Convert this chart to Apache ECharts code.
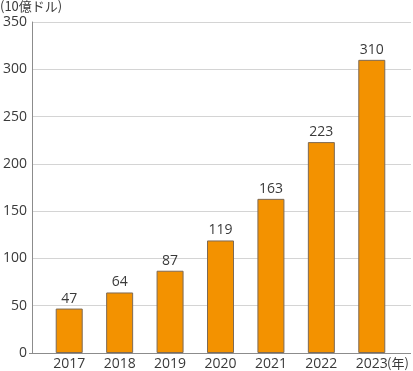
<!DOCTYPE html>
<html><head><meta charset="utf-8">
<script src="https://cdn.jsdelivr.net/npm/echarts@6/dist/echarts.min.js"></script>
<style>html,body{margin:0;padding:0;background:#fff}#c{width:413px;height:371px}</style>
</head><body><div id="c"></div>
<script>
const categories = ['2017','2018','2019','2020','2021','2022','2023'];
const values = [47, 64, 87, 119, 163, 223, 310];
const yTicks = [0, 50, 100, 150, 200, 250, 300, 350];
const unitLabel = '(10億ドル)';
const yearUnit = '(年)';

const font = '"Open Sans", "Noto Sans CJK JP", sans-serif';
const jpFont = '"Noto Sans CJK JP", sans-serif';
const txt = '#3a3a3a';
const chart = echarts.init(document.getElementById('c'));
chart.setOption({
  animation: false,
  textStyle: { fontFamily: font },
  grid: [
    { left: 29, right: 2, top: 22, bottom: 18 },
    { left: 44, right: 16, top: 22, bottom: 18 }
  ],
  xAxis: [
    { gridIndex: 0, type: 'value', show: false, min: 0, max: 1 },
    { gridIndex: 1, type: 'category', data: categories,
      axisLine: { show: false }, axisTick: { show: false },
      axisLabel: { color: txt, fontSize: 14, margin: 4, fontFamily: font } }
  ],
  yAxis: [
    { gridIndex: 0, type: 'value', min: yTicks[0], max: yTicks[yTicks.length-1], interval: 50,
      axisLine: { show: true, lineStyle: { color: '#8c8c8c', width: 1 } },
      axisTick: { show: false },
      axisLabel: { color: txt, fontSize: 14, margin: 5, fontFamily: font },
      splitLine: { show: true, lineStyle: { color: '#d4d4d4', width: 1 } } },
    { gridIndex: 1, type: 'value', min: 0, max: 350, show: false, splitLine: { show: false } }
  ],
  graphic: [
    { type: 'text', left: 0, top: 0, style: { text: unitLabel, fill: txt, font: '13px ' + jpFont } },
    { type: 'line', shape: { x1: 29, y1: 353.5, x2: 411, y2: 353.5 }, style: { stroke: '#8c8c8c', lineWidth: 1 }, z: 10 },
    { type: 'text', left: 387, top: 357, style: { text: yearUnit, fill: txt, font: '13px ' + jpFont } }
  ],
  series: [{
    type: 'bar', xAxisIndex: 1, yAxisIndex: 1, data: values,
    barWidth: 27,
    itemStyle: { color: '#F39200', borderColor: '#7d6a55', borderWidth: 1 },
    label: { show: true, position: 'top', color: txt, fontSize: 14, distance: 3, fontFamily: font }
  }]
});
</script></body></html>
